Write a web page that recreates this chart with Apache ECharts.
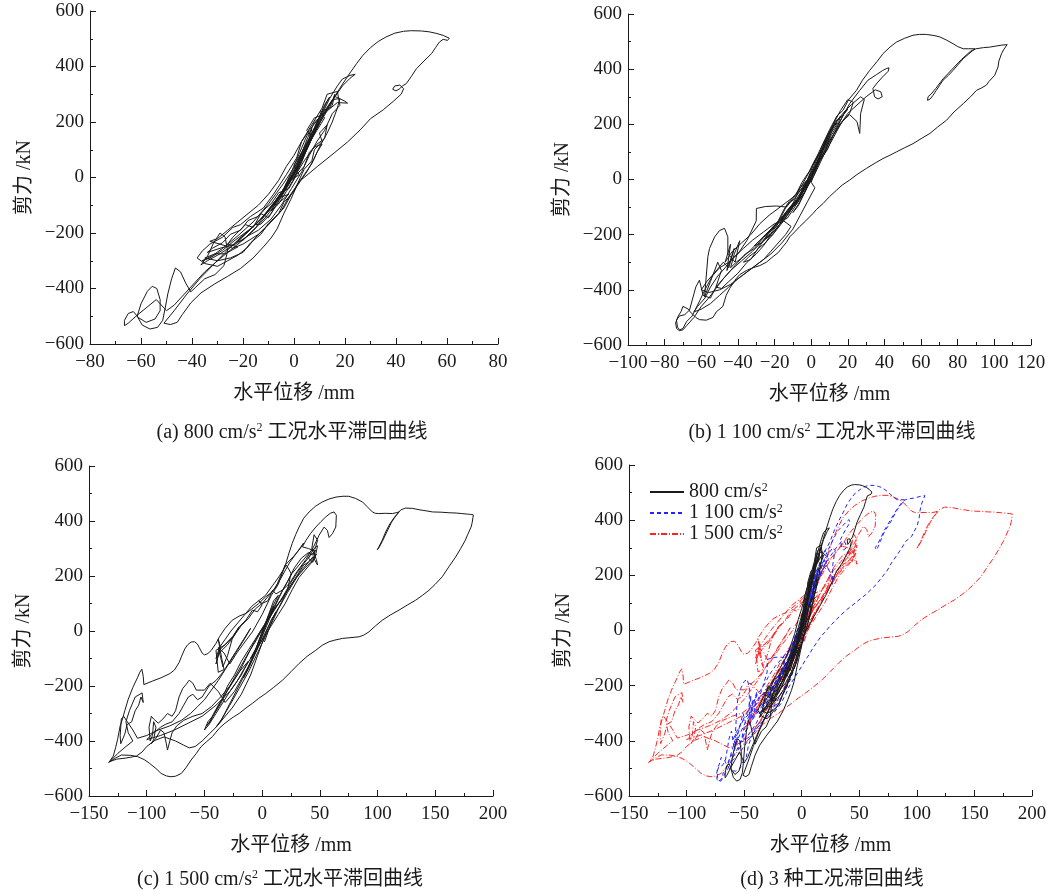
<!DOCTYPE html>
<html><head><meta charset="utf-8">
<script src="https://cdn.jsdelivr.net/npm/echarts@6/dist/echarts.min.js"></script>
<style>html,body{margin:0;padding:0;background:#fff}#c{width:1063px;height:894px}</style>
</head><body><div id="c"></div>
<script>
// ---- data: [displacement mm, shear kN] ----
const d800 = [
[0,0],[2,40],[4,90],[6,140],[7,175],[5,150],[2,85],[-1,20],[-4,-40],[-7,-90],[-9,-120],[-6,-95],[-3,-50],[0,-5],[3,55],[6,125],[9,190],[10,215],[8,200],[5,135],[1,40],[-3,-30],[-8,-95],[-12,-140],[-15,-170],[-13,-168],[-9,-130],[-5,-70],[-1,-10],[3,70],[7,160],[11,235],[13,275],[14,290],[12,262],[9,200],[5,118],[1,38],[-4,-50],[-9,-112],[-14,-160],[-19,-200],[-22,-232],[-20,-226],[-16,-192],[-11,-142],[-6,-82],[-2,-22],[2,52],[6,132],[10,205],[14,262],[16,292],[20,275],[21,268],[17,270],[13,240],[9,180],[4,95],[0,20],[-5,-55],[-10,-120],[-16,-178],[-23,-225],[-28,-262],[-33,-290],[-36,-300],[-32,-282],[-27,-248],[-22,-210],[-16,-160],[-10,-95],[-4,-20],[1,50],[6,140],[10,210],[14,285],[17,330],[19,355],[22,368],[24,372],[22,358],[19,330],[16,290],[12,230],[8,160],[3,70],
[5,110],[9,170],[12,215],[10,235],[14,250],[16,300],[15,260],[11,225],[8,215],[5,170],[7,140],[3,90],[0,45],[2,10],[-3,-20],[-5,-70],[-2,-60],[-7,-100],[-10,-145],[-13,-130],[-16,-180],[-19,-170],[-24,-215],[-26,-240],[-22,-250],[-27,-275],[-31,-275],[-35,-290],[-30,-300],[-25,-290],[-20,-270],[-17,-235],[-13,-205],[-10,-165],[-6,-130],[-4,-90],[0,-50],[2,-10],[4,30],[7,60],[8,100],[11,130],[10,160],[13,190],[12,140],[9,120],[6,90],[4,40],[1,10],[-2,-40],[-6,-55],[-9,-95],[-11,-110],[-14,-140],[-18,-155],[-21,-190],[-25,-205],[-28,-235],[-32,-255],[-34,-270],[-29,-255],[-23,-240],[-18,-210],[-14,-190],[-9,-150],[-5,-100],[-1,-40],[3,20],[6,80],[9,130],[12,170],[15,230],[18,260],[17,310],[13,300],[11,250],[7,190],[3,130],[1,70],[-3,10],
[-8,-60],[-12,-110],[-17,-140],[-21,-170],[-24,-180],[-28,-215],[-33,-240],[-36,-265],[-38,-290],[-35,-310],[-30,-320],[-26,-300],[-22,-280],[-18,-250],[-15,-215],[-11,-180],[-8,-150],[-4,-110],[-1,-60],[2,-20],[5,20],[8,70],[10,110],[13,160],[15,200],[17,250],[18,285],[15,280],[12,240],[9,205],[6,170],[3,130],[0,80],[-3,40],[-6,-10],[-10,-60],[-14,-100],[-18,-130],[-22,-160],[-26,-190],[-30,-220],[-33,-230],[-29,-240],[-24,-255],[-20,-240],[-14,-205],[-9,-160],[-5,-120],[-2,-70],[1,-30],[4,10],[7,50],[9,90],[11,120],[8,110],[4,60],[0,0],
[-2,-15],[-7,-80],[-13,-150],[-19,-205],[-24,-245],[-29,-275],[-34,-300],[-36.5,-315],[-34,-285],[-31.5,-235],[-29,-200],[-27,-215],[-26,-265],[-27.5,-318],[-31,-350],[-35,-365],[-38.5,-395],[-40.5,-412],[-42.5,-380],[-44.5,-340],[-46.5,-326],[-48,-365],[-49.5,-420],[-50.5,-470],[-51.5,-515],[-53.5,-540],[-56.5,-546],[-59.5,-532],[-61.5,-500],[-60,-455],[-57.5,-410],[-55.6,-392],[-53.8,-400],[-52.5,-440],[-52.5,-480],[-54.5,-510],[-58,-522],[-61,-505],[-63,-483],[-65,-490],[-66.5,-515],[-66.5,-534],[-65,-525],[-62,-500],[-58,-470],[-54,-440],[-50,-480],[-47,-460],[-43,-420],[-39,-380],[-35,-340],[-30,-300],[-25,-262],[-20,-225],[-15,-180],[-10,-120],[-5,-55],[-1,-5],[3,60],[7,140],[11,220],[15.5,285],[18,322],[21,364],[24.5,410],[27,440],[30,468],[33,490],[36,506],[39.5,520],[43,527],[46,529],[50,528],[53,525],[56,519],[58.5,512],[60.9,502],[60.2,494],[58.5,498],[57,488],[55.5,468],[54,447],[51,420],[48,392],[46,364],[44,338],[42.5,330],[41.5,320],[40,312],[38.7,318],[39.5,330],[41.5,333],[43,320],[42,300],[39,275],[35,244],[30,212],[26,172],[21,128],[15.7,88],[9.2,40],[4,0],[2,-14],[1,-32],[-1.3,-80],[-3.9,-128],[-6.6,-185],[-9,-218],[-12,-250],[-16,-290],[-21,-328],[-26,-356],[-31,-383],[-36.5,-416],[-40.5,-452],[-43.8,-494],[-45.8,-522],[-48.5,-530],[-51,-525],[-47,-480],[-42,-420],[-37,-365],[-32,-318],[-27,-270],[-22,-225],[-17,-185],[-12,-140],[-7,-80],[-2,-15],[3,60],[7,140],[10,195],[8,175],[4,110],[0,30],[-4,-40],[-8,-100],[-5,-65],[-1,-5],[2,40]
];
const d1100 = [
[0,0],[3,50],[6,100],[8,140],[5,90],[1,20],[-3,-40],[-7,-90],[-10,-120],[-7,-95],[-3,-40],[1,20],[5,80],[9,150],[12,195],[14,205],[11,180],[7,120],[2,40],[-3,-30],[-8,-80],[-13,-120],[-16,-150],[-13,-140],[-9,-100],[-4,-40],[0,10],[4,80],[9,160],[13,200],[16,230],[15,210],[11,170],[6,100],[0,20],[-6,-60],[-12,-110],[-18,-160],[-22,-195],[-25,-215],[-21,-200],[-15,-150],[-9,-90],[-4,-30],[1,40],[6,120],[11,185],[15,220],[18,245],[22,272],[27,300],[29,290],[27,240],[26.5,167],[25,210],[21,235],[16,205],[11,150],[6,85],[0,10],[-6,-60],[-13,-115],[-20,-170],[-27,-215],[-31,-240],[-27,-230],[-20,-185],[-13,-130],[-7,-70],[-1,0],
[2,30],[5,70],[9,110],[12,160],[15,200],[18,240],[20,255],[17,230],[13,210],[11,170],[8,120],[4,90],[1,50],[-2,0],[-6,-30],[-9,-70],[-13,-90],[-16,-130],[-19,-170],[-23,-190],[-27,-230],[-30,-260],[-34,-280],[-37,-300],[-33,-290],[-29,-250],[-25,-230],[-21,-200],[-17,-160],[-14,-120],[-11,-95],[-7,-70],[-4,-20],[0,20],[3,60],[7,90],[10,140],[14,180],[17,210],[21,240],[23,280],[20,290],[16,250],[12,200],[9,160],[6,110],[2,70],[-1,30],[-5,-10],[-8,-50],[-12,-80],[-15,-110],[-18,-150],[-22,-180],[-26,-210],[-31,-250],[-36,-270],[-40,-300],[-44,-330],[-48,-360],[-52,-390],[-49,-395],[-45,-370],[-40,-340],[-35,-300],[-30,-270],[-26,-240],[-22,-200],[-18,-170],[-15,-140],[-11,-110],[-8,-80],[-4,-40],[0,0],
[-6,-40],[-11,-70],[-17,-100],[-23,-130],[-28,-160],[-33,-200],[-38,-230],[-43,-260],[-47,-300],[-44,-235],[-46,-330],[-42,-250],[-45,-320],[-48,-300],[-53,-340],[-57,-370],[-60,-400],[-56,-410],[-50,-400],[-44,-380],[-38,-350],[-32,-320],[-26,-290],[-22,-260],[-18,-230],[-14,-200],[-11,-170],[-15,-150],[-20,-160],[-26,-190],[-32,-220],[-37,-250],[-42,-280],[-47,-320],[-51,-350],[-55,-390],[-58,-430],[-62,-460],[-64,-480],[-60,-470],[-55,-450],[-50,-420],[-45,-390],[-40,-360],[-34,-330],[-28,-300],[-22,-270],[-16,-230],[-10,-180],[-6,-130],[-2,-80],[2,-30],[0,-10],
[5,75],[11,160],[16,215],[21,275],[26.5,323],[31,360],[35.6,380],[39,395],[41,402],[42.5,405],[42,392],[39,372],[36,350],[33.7,330],[34.6,300],[36.5,292],[38.8,300],[38,318],[35,325],[30,300],[25,270],[20,240],[16,200],[12,150],[7,90],[2,20],[-4,-50],[-10,-100],[-16,-140],[-22,-180],[-28,-220],[-33,-255],[-37,-280],[-41,-300],[-44,-320],[-42,-270],[-39,-222],[-41.5,-300],[-45.5,-268],[-45.5,-208],[-47.3,-177],[-50,-185],[-52.7,-208],[-55.5,-250],[-56.4,-280],[-57.3,-353],[-58.2,-425],[-55,-370],[-51,-300],[-49,-330],[-52,-390],[-55,-430],[-59,-420],[-61,-365],[-63,-390],[-66.4,-473],[-69,-490],[-72,-495],[-73.5,-510],[-73,-535],[-71.8,-545],[-70,-540],[-68,-515],[-65,-495],[-60.9,-440],[-58,-400],[-54,-350],[-50,-320],[-45,-300],[-40,-270],[-35,-220],[-30,-150],[-29.9,-105],[-25,-98],[-19,-96],[-13.5,-100],[-10,-70],[-5,-20],[0,40],[5,110],[10,180],[14,230],[17.4,251],[20.5,290],[24.7,323],[28,360],[32,396],[36,428],[39.2,456],[43,480],[46.5,498],[51,512],[55.6,523],[59,526],[62.9,526],[67,522],[70.2,517],[74,505],[77.5,492],[80,482],[83,474],[86,474],[89.4,474],[86,455],[83,438],[80,415],[77.5,396],[75,378],[72,360],[70,340],[68.3,323],[66.5,305],[65,292],[63.5,287],[63.8,300],[65.5,310],[68,330],[72,365],[77,400],[82,435],[87,465],[90,474],[94,478],[97.5,480],[101,484],[104,487],[107,489],[107.2,484],[105,470],[103.9,456],[102.5,430],[102,408],[100.2,378],[97,355],[95.6,342],[93,332],[90.2,323],[87,300],[83,275],[78,245],[73.9,215],[69,190],[64.8,167],[60,148],[55.6,130],[51,115],[46.5,100],[43,88],[39.2,76],[35,60],[30.1,40],[25,18],[21,-2],[17,-20],[13.8,-39],[10,-62],[6.5,-87],[3,-108],[1,-123],[-3,-150],[-6.3,-171],[-9,-190],[-11.7,-208],[-13.5,-228],[-15.5,-244],[-18,-265],[-20.9,-280],[-24.5,-300],[-28,-312],[-31.8,-320],[-35.4,-330],[-39,-345],[-41,-360],[-44.5,-395],[-46.4,-420],[-48.2,-460],[-51.8,-480],[-53.6,-500],[-57.3,-510],[-61,-508],[-63,-500],[-66,-480],[-67,-470],[-70,-460],[-71,-478],[-72.8,-498],[-74,-520],[-73.5,-540],[-72,-548],[-70,-545],[-68,-530],[-64,-500],[-60,-460],[-56,-430],[-52,-395],[-48,-360],[-44,-330],[-38,-295],[-32,-260],[-26,-220],[-20,-170],[-14,-120],[-9,-80],[-5,-40],[-1,10],[-4,-20],[-8,-60],[-11,-100],[-8,-90],[-4,-50],[0,0]
];
const d1500 = [
[0,0],[5,40],[10,90],[6,60],[0,-10],[-6,-70],[-10,-100],[-5,-60],[2,20],[8,80],[14,130],[10,110],[3,30],[-5,-60],[-12,-130],[-16,-170],[-11,-130],[-3,-50],[5,40],[14,120],[22,180],[28,230],[34,265],[40,285],[44,276],[46,295],[44,250],[40,265],[45,300],[48,310],[46,270],[42,250],[36,225],[30,195],[22,140],[14,80],[5,0],[-4,-80],[-12,-150],[-20,-210],[-28,-270],[-35,-320],[-40,-350],[-36,-330],[-30,-280],[-22,-215],[-14,-150],[-6,-80],[2,0],[10,80],[18,150],[26,210],[34,250],[42,290],[46,300],[48,330],[45,350],[43,300],[47,260],[48,240],[44,270],
[40,250],[36,240],[30,200],[24,160],[18,120],[12,90],[6,50],[0,10],[-6,-30],[-12,-70],[-18,-110],[-24,-160],[-30,-200],[-35,-250],[-40,-290],[-44,-320],[-48,-345],[-45,-330],[-42,-300],[-38,-270],[-32,-230],[-26,-190],[-20,-150],[-14,-100],[-8,-50],[-2,-5],[4,35],[10,75],[16,110],[22,150],[28,185],[34,220],[40,250],[45,270],[47,280],[44,255],[38,225],[32,195],[26,150],[20,100],[14,60],[8,20],[2,-20],[-4,-60],[-10,-100],[-16,-140],[-22,-185],[-28,-220],[-34,-260],[-40,-300],[-46,-340],[-50,-360],[-47,-330],[-42,-305],[-36,-265],[-30,-215],[-24,-170],[-18,-125],[-12,-80],[-6,-40],[0,5],[6,45],[12,85],[18,125],[24,170],[30,210],[36,245],[42,275],[46,290],[40,300],
[34.9,306],[38,330],[42,355],[46.5,378],[51,398],[55.1,415],[59,428],[62.3,433],[64.3,421],[63.8,378],[60.9,354],[58,340],[56.5,366],[53.7,378],[49.3,348],[45,310],[38,260],[30,215],[24,175],[18,150],[12,135],[9,148],[5,110],[0,100],[-3,110],[0,95],[-4,70],[-8.4,76],[-14,40],[-19.9,15],[-25.7,-21],[-30,-40],[-37,-70],[-40,-120],[-36,-60],[-38,-30],[-35,-100],[-33,-140],[-38,-150],[-40,-70],[-32,-50],[-25,-20],[-20,15],[-26,-30],[-30,-90],[-34,-130],[-36,-95],[-38,-60],[-33,-80],[-28,-120],[-22,-80],[-15,-40],[-8,0],[0,60],[8,130],[14,170],[20,240],
[27,270],[33,300],[36,320],[30,285],[24,250],[16,190],[10,150],[4,120],[0,100],[-6,80],[-12,45],[-18,20],[-24,-15],[-30,-50],[-36,-75],[-40,-100],[-37,-60],[-32,-30],[-27,0],[-21,30],[-15,60],[-9,90],[-3,110],[3,130],[9,165],[15,200],[21,240],[25,210],[22,150],[15,90],[8,40],[0,-30],[-8,-100],[-16,-160],[-24,-220],[-32,-260],[-38,-220],[-45,-190],[-50,-215],[-57,-215],[-60,-190],[-63.2,-179],[-66,-195],[-68.8,-209],[-72,-240],[-75,-290],[-78,-310],[-82,-300],[-86,-320],[-90,-335],[-94,-320],[-96,-310],[-98,-350],[-97,-400],[-95,-380],[-94,-330],[-92,-350],[-94,-395],[-96,-410],[-92,-390],[-88,-360],[-85,-370],[-83,-410],[-82,-433],[-80,-400],[-78,-370],[-74,-345],[-68,-325],[-60,-310],[-52,-300],[-44,-275],[-36,-240],[-28,-200],[-20,-150],[-12,-110],[-18,-160],[-28,-220],[-40,-270],[-52,-310],[-64,-335],[-76,-360],[-88,-380],[-100,-395],
[-94,-370],[-88,-350],[-84,-340],[-78,-330],[-72,-300],[-68,-270],[-64,-240],[-60,-230],[-56,-250],[-52,-240],[-46,-200],[-40,-180],[-34,-150],[-28,-110],[-22,-70],[-16,-30],[-10,10],[-14,-20],[-20,-60],[-26,-100],[-32,-140],[-38,-180],[-44,-215],[-50,-250],[-56,-275],[-62,-300],[-70,-325],[-80,-345],[-90,-360],[-100,-380],
[-108,-390],[-112,-360],[-116,-335],[-120,-310],[-122,-320],[-123,-380],[-122.5,-410],[-119,-375],[-117,-340],[-113,-330],[-110,-290],[-107,-270],[-105,-240],[-103,-260],[-104,-225],[-110,-240],[-115,-290],[-118,-330],[-116,-370],[-112,-400],[-118,-420],[-125,-445],[-133,-479],[-129,-455],[-127,-425],[-125,-390],[-123,-345],[-121,-320],[-119,-290],[-116,-248],[-112,-205],[-108,-170],[-106,-150],[-104.2,-139],[-103,-165],[-102.5,-195],[-101,-190],[-95,-182],[-87.5,-170],[-80,-155],[-76,-142],[-72,-115],[-70,-94],[-67,-65],[-64.5,-50],[-61.5,-40],[-58.5,-39],[-56,-48],[-54.5,-60],[-52,-80],[-50,-87],[-47,-82],[-44,-70],[-40,-45],[-37,-21],[-32,10],[-26,39],[-20,54],[-14,64],[-9,80],[-3,100],[3,124],[8,140],[12,160],[16,200],[20.5,245],[23,280],[26,318],[29,350],[32,378],[36,410],[40.7,433],[46,453],[52,469],[58,480],[64,487],[70,490],[75,490],[81,482],[87,469],[91,452],[95.5,433],[98,428],[101,427],[107,428],[113,427],[116,430],[118.6,433],[114,410],[110,385],[107,360],[104,330],[101,305],[99.8,296],[101.5,305],[104,325],[108,360],[112,395],[116,420],[120,440],[124,447],[130,446],[136,441],[142,437],[147.5,433],[155,432],[162,430],[168,429],[173,427],[178,425],[180.6,424],[183,422],[182.6,412],[182,395],[181,378],[178,350],[176,330],[172,300],[167.6,269],[162,235],[156,197],[150,170],[144.5,148],[139,130],[133,112],[126,95],[118.6,76],[111,58],[104,39],[98,18],[92.6,-3],[88,-15],[84,-21],[77,-24],[69.5,-27],[63,-33],[58,-39],[52,-52],[46.5,-70],[39,-92],[32,-118],[25,-148],[17.6,-179],[10,-205],[3.2,-227],[-3,-245],[-8.4,-263],[-14,-280],[-20,-300],[-25,-313],[-28.6,-324],[-33,-338],[-37.2,-354],[-40,-368],[-43,-384],[-48,-402],[-53,-421],[-57,-445],[-61.5,-469],[-66,-497],[-70,-518],[-75,-528],[-79,-530],[-83,-527],[-87.5,-518],[-92,-500],[-97.6,-481],[-102,-468],[-107.7,-457],[-114,-452],[-122,-451],[-127,-462],[-132,-475],[-126,-466],[-118,-462],[-109,-455],[-104,-440],[-100,-420],[-93,-398],[-85,-385],[-75,-400],[-68,-415],[-63.2,-425],[-58,-420],[-52,-400],[-46,-375],[-40,-350],[-34,-320],[-26,-280],[-18,-230],[-10,-160],[-4,-90],[2,-20],[8,40],[12,70],[7,20],[2,-40]
];
const seriesNames = ['800 cm/s2', '1 100 cm/s2', '1 500 cm/s2'];
const subTitles = ['(a) 800 cm/s{sup|2} 工况水平滞回曲线', '(b) 1 100 cm/s{sup|2} 工况水平滞回曲线', '(c) 1 500 cm/s{sup|2} 工况水平滞回曲线', '(d) 3 种工况滞回曲线'];
const xRanges = [[-80, 80, 20], [-100, 120, 20], [-150, 200, 50], [-150, 200, 50]];
const yRange = [-600, 600, 200];
const xName = '水平位移 /mm';
const yName = '剪力 /kN';

// ---- layout ----
const SERIF = '"Liberation Serif","Noto Sans CJK SC",serif';
const INK = '#1a1a1a';
const grids = [
  {left: 90, top: 11, width: 408, height: 333},
  {left: 628, top: 14, width: 403, height: 331},
  {left: 89, top: 466, width: 404, height: 330},
  {left: 629, top: 465, width: 403, height: 331}
];
const fmt = v => (v < 0 ? '\u2212' + (-v) : String(v));
function axisCommon() {
  return {
    type: 'value',
    axisLine: {onZero: false, lineStyle: {color: INK, width: 1}},
    axisTick: {inside: true, length: 6, lineStyle: {color: INK, width: 1}},
    minorTick: {show: true, splitNumber: 2, length: 3, lineStyle: {color: INK, width: 1}},
    splitLine: {show: false},
    minorSplitLine: {show: false},
    axisLabel: {fontFamily: SERIF, fontSize: 19, color: INK, formatter: fmt, hideOverlap: false}
  };
}
const xAxes = xRanges.map((r, i) => Object.assign(axisCommon(), {
  gridIndex: i, min: r[0], max: r[1], interval: r[2],
  name: xName, nameLocation: 'middle', nameGap: 40,
  nameTextStyle: {fontFamily: SERIF, fontSize: 20, color: INK}
}));
xAxes.forEach(a => a.axisLabel.margin = 9);
const yAxes = grids.map((g, i) => Object.assign(axisCommon(), {
  gridIndex: i, min: yRange[0], max: yRange[1], interval: yRange[2],
  name: yName, nameLocation: 'middle', nameGap: 55,
  nameTextStyle: {fontFamily: SERIF, fontSize: 20, color: INK}
}));
yAxes.forEach(a => a.axisLabel.margin = 6);

function line(name, data, gi, color, type, z) {
  return {
    type: 'line', name: name, xAxisIndex: gi, yAxisIndex: gi, data: data,
    symbol: 'none', showSymbol: false, smooth: false, z: z || 2,
    lineStyle: {color: color, width: 1, type: type || 'solid'},
    itemStyle: {color: color}, silent: true, animation: false
  };
}
const series = [
  line('a', d800, 0, INK),
  line('b', d1100, 1, INK),
  line('c', d1500, 2, INK),
  line(seriesNames[2], d1500, 3, '#ff2424', [6, 2, 1, 2], 2),
  line(seriesNames[1], d1100, 3, '#2424ff', [4, 3], 3),
  line(seriesNames[0], d800, 3, INK, 'solid', 4)
];

const titlePos = [[292, 433], [832, 433], [280, 880], [832, 880]];
const graphic = subTitles.map((t, i) => ({
  type: 'text', x: titlePos[i][0], y: titlePos[i][1], silent: true,
  style: {
    text: t, fill: INK, fontFamily: SERIF, fontSize: 20, align: 'center', verticalAlign: 'middle',
    rich: {sup: {fontSize: 12, fontFamily: SERIF, fill: INK, verticalAlign: 'top', lineHeight: 22}}
  }
}));

const chart = echarts.init(document.getElementById('c'), null, {renderer: 'canvas'});
chart.setOption({
  animation: false,
  backgroundColor: '#ffffff',
  grid: grids,
  xAxis: xAxes,
  yAxis: yAxes,
  legend: {
    data: seriesNames, orient: 'vertical', left: 649, top: 482, padding: 0,
    itemWidth: 34, itemHeight: 12, itemGap: 1,
    itemStyle: {color: 'rgba(0,0,0,0)', borderColor: 'rgba(0,0,0,0)', borderWidth: 0, opacity: 0},
    formatter: n => n.replace('s2', 's{sup|2}'),
    textStyle: {fontFamily: SERIF, fontSize: 20, color: INK, lineHeight: 20,
      rich: {sup: {fontSize: 12, fontFamily: SERIF, color: INK, verticalAlign: 'top', lineHeight: 12}}}
  },
  series: series,
  graphic: graphic
});
</script></body></html>
